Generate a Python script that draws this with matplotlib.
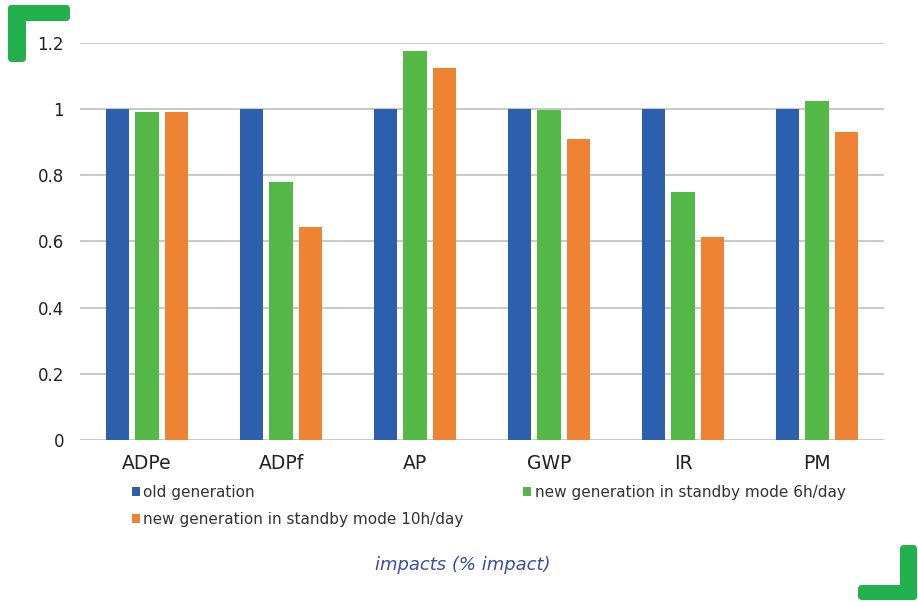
import matplotlib
matplotlib.use("Agg")
import numpy as np
import matplotlib.pyplot as plt
from matplotlib.patches import FancyBboxPatch

categories = ["ADPe", "ADPf", "AP", "GWP", "IR", "PM"]
old_gen = [1, 1, 1, 1, 1, 1]
new_6h = [0.99, 0.78, 1.175, 0.997, 0.75, 1.025]
new_10h = [0.99, 0.643, 1.125, 0.91, 0.614, 0.93]
series_names = ["old generation",
                "new generation in standby mode 6h/day",
                "new generation in standby mode 10h/day"]
yticks = [0, 0.2, 0.4, 0.6, 0.8, 1, 1.2]
ytick_labels = ["0", "0.2", "0.4", "0.6", "0.8", "1", "1.2"]

colors = ["#2c5fad", "#55b948", "#ee8433"]
accent = "#22b14c"


def draw_corners(fig):
    # green bracket marks, sizes in inches (100 dpi)
    tr = fig.dpi_scale_trans
    boxes = [(0.08, 5.44, 0.18, 0.57), (0.08, 5.85, 0.62, 0.16),
             (9.00, 0.06, 0.17, 0.55), (8.58, 0.06, 0.59, 0.15)]
    for x, y, w, h in boxes:
        fig.patches.append(FancyBboxPatch(
            (x, y), w, h, boxstyle="round,pad=0,rounding_size=0.04",
            transform=tr, facecolor=accent, edgecolor="none"))


def main():
    fig = plt.figure(figsize=(9.18, 6.06), dpi=100)
    ax = fig.add_axes([80 / 918, 1 - 440 / 606, 804 / 918, 397 / 606])

    x = np.arange(len(categories))
    off = 0.22
    w = 0.175
    bars = []
    for i, vals in enumerate([old_gen, new_6h, new_10h]):
        b = ax.bar(x + (i - 1) * off, vals, w, color=colors[i],
                   label=series_names[i], zorder=3)
        bars.append(b)

    ax.set_xlim(-0.5, len(categories) - 0.5)
    ax.set_ylim(0, 1.2)
    ax.set_yticks(yticks)
    ax.set_yticklabels(ytick_labels)
    ax.set_xticks(x)
    ax.set_xticklabels(categories)
    ax.grid(axis="y", color="#c0c0c0", linewidth=1.2, zorder=0)
    for s in ax.spines.values():
        s.set_visible(False)
    ax.tick_params(axis="y", length=0, pad=11.5, labelsize=12, labelcolor="#222222")
    ax.tick_params(axis="x", length=0, pad=10, labelsize=13.5, labelcolor="#222222")

    # legend: column 1 gets old + 10h, column 2 gets 6h
    handles = [bars[0], bars[2], bars[1]]
    labels = [series_names[0], series_names[2], series_names[1]]
    fig.legend(handles, labels, ncol=2, loc="upper left",
               bbox_to_anchor=(132 / 918, 1 - 485 / 606),
               frameon=False, fontsize=11, handlelength=0.5,
               handleheight=0.5, handletextpad=0.25, labelspacing=0.78,
               columnspacing=3.9, borderaxespad=0, borderpad=0,
               labelcolor="#333333")

    fig.text(463 / 918, 1 - 565 / 606, "impacts (% impact)", ha="center",
             va="center", fontsize=13, style="italic", color="#3a4f9f")

    draw_corners(fig)
    fig.savefig("out.png", dpi=100)


if __name__ == "__main__":
    main()
